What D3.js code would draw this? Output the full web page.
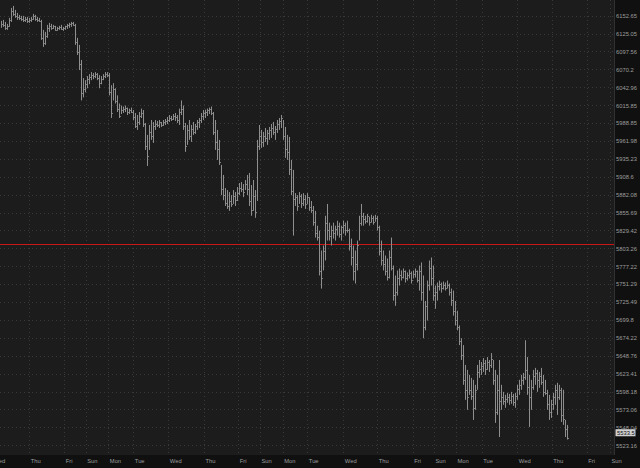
<!DOCTYPE html>
<html><head><meta charset="utf-8">
<script src="https://cdn.jsdelivr.net/npm/d3@7"></script>
<style>html,body{margin:0;padding:0;background:#1c1c1c;overflow:hidden}svg{display:block}</style>
</head><body><svg id="c" width="640" height="468"></svg>
<script>
const yTicks = [6152.65, 6125.05, 6097.56, 6070.2, 6042.96, 6015.85, 5988.85, 5961.98, 5935.23, 5908.6, 5882.08, 5855.69, 5829.42, 5803.26, 5777.22, 5751.29, 5725.49, 5699.8, 5674.22, 5648.76, 5623.41, 5598.18, 5573.06, 5548.04, 5523.16];
const dayTicks = [-4.5, 14.15, 31.65, 42.35, 53.65, 66.15, 83.65, 101.5, 118.65, 129.5, 140.85, 153.15, 171.15, 188.15, 205.85, 216.5, 227.5, 240.35, 258.15, 275.35, 292.85, 304.5];
const dayLabels = ["Wed","Thu","Fri","Sun","Mon","Tue","Wed","Thu","Fri","Sun","Mon","Tue","Wed","Thu","Fri","Sun","Mon","Tue","Wed","Thu","Fri","Sun"];
const highs = [
6144.7,6146.2,6143.1,6140,6149.3,6164.7,6167.8,6161.6,6157,6153.9,
6152.4,6152.4,6150.8,6150.8,6149.3,6150.8,6155.4,6153.9,6150.8,6149.3,
6146.2,6130.8,6127.7,6138.5,6141.6,6140,6138.5,6137,6135.4,6137,
6138.5,6135.4,6137,6140,6141.6,6143.1,6143.1,6140,6118.5,6107.7,
6084.6,6056.9,6053.8,6060,6063,6066.1,6064.6,6066.1,6064.6,6061.5,
6060,6063,6066.1,6066.1,6064.6,6046.1,6049.2,6041.5,6030.7,6018.4,
6015.3,6013.8,6015.3,6012.2,6010.7,6012.2,6008.5,6004,6001,6005.5,
6010.7,6008.5,5989,5971.1,5986,5993.5,5990.5,5993.5,5992,5993.5,
5990.5,5993.5,5995,5998,6001,5999.5,6002.5,6004,6001,6010.7,
6023,6015.3,5989,5986,5993.5,5986,5990.5,5987.5,5993.5,5996.5,
6004,6008.5,6009.1,6010.7,6012.2,6013.8,6005.5,5993.5,5978.6,5963.6,
5926.2,5911.3,5891.8,5888.9,5885.9,5881.4,5888.9,5885.9,5893.3,5899.3,
5900.8,5897.8,5903.8,5911.3,5914.3,5896.3,5903.8,5888.9,5963.6,5986,
5978.6,5975.6,5981.5,5978.6,5983,5987.5,5990.5,5984.5,5993.5,5996.5,
6001,5993.5,5983,5971.1,5968.1,5933.7,5918.8,5884.4,5881.4,5885.9,
5882.9,5884.4,5881.4,5884.4,5878.4,5872.7,5865.4,5858.2,5836.4,5829.2,
5800.1,5807.4,5850.9,5868.4,5840.8,5836.4,5840.8,5836.4,5843.7,5840.8,
5836.4,5843.7,5840.8,5843.7,5832.1,5817.5,5807.4,5800.1,5814.6,5850.9,
5868.4,5855.3,5850.9,5853.8,5849.5,5852.4,5850.9,5852.4,5850.9,5836.4,
5814.6,5800.1,5792.8,5788.5,5800.1,5819,5778.3,5763.8,5771.1,5774,
5771.1,5774,5771.1,5768.2,5772.5,5769.6,5771.1,5774,5771.1,5778.3,
5782.7,5763.8,5727,5756.5,5785.6,5789.9,5778.3,5749.3,5753.6,5756.5,
5753.6,5755.1,5753.6,5756.5,5752.2,5744.9,5742,5727,5713,5691.9,
5673.6,5663.8,5635.7,5628.7,5621.6,5617.4,5614.6,5607.6,5635.7,5642.7,
5639.9,5645.5,5642.7,5646.9,5642.7,5652.5,5642.7,5628.7,5621.6,5642.7,
5607.6,5597.7,5593.5,5596.3,5594.9,5597.7,5594.9,5596.3,5607.6,5614.6,
5621.6,5624.4,5670.8,5646.9,5621.6,5614.6,5628.7,5631.5,5628.7,5625.8,
5631.5,5621.6,5614.6,5600.6,5593.5,5586.5,5596.3,5607.6,5610.4,5607.6,
5603.4,5600.6,5558.4,5551.4];
const lows = [
6133.9,6135.4,6130.8,6130.8,6135.4,6143.1,6152.4,6149.3,6146.2,6146.2,
6144.7,6143.1,6143.1,6141.6,6141.6,6143.1,6146.2,6144.7,6143.1,6143.1,
6115.4,6104.6,6107.7,6118.5,6127.7,6130.8,6132.3,6129.3,6129.3,6130.8,
6130.8,6129.3,6130.8,6132.3,6133.9,6135.4,6137,6107.7,6092.3,6069.2,
6023,6027.6,6035.3,6041.5,6047.6,6053.8,6055.3,6056.9,6053.8,6041.5,
6047.6,6053.8,6056.9,6058.4,6030.7,5996.5,6023,6018.4,6005.5,5996.5,
6002.5,6004,6005.5,6001,6002.5,6004,5993.5,5981.5,5978.6,5986,
5996.5,5983,5948.6,5924.7,5948.6,5963.6,5959.1,5978.6,5983,5981.5,
5983,5984.5,5986,5987.5,5990.5,5992,5993.5,5992,5989,5986,
6001,5978.6,5945.7,5956.1,5963.6,5960.6,5971.1,5972.6,5978.6,5981.5,
5989,5993.5,5996.5,5999.5,6002.5,6001,5971.1,5948.6,5933.7,5926.2,
5881.4,5873.9,5865.4,5861.1,5858.2,5864,5868.4,5865.4,5872.7,5881.4,
5885.9,5878.4,5888.9,5881.4,5865.4,5850.9,5858.2,5848,5872.7,5948.6,
5951.6,5953.1,5960.6,5956.1,5963.6,5966.6,5971.1,5963.6,5974,5978.6,
5981.5,5963.6,5936.7,5933.7,5911.3,5881.4,5821.9,5865.4,5858.2,5868.4,
5862.5,5865.4,5861.1,5868.4,5858.2,5855.3,5836.4,5819,5814.6,5763.8,
5744.9,5771.1,5785.6,5814.6,5814.6,5807.4,5817.5,5814.6,5821.9,5819,
5814.6,5824.8,5821.9,5826.2,5800.1,5778.3,5756.5,5752.2,5771.1,5814.6,
5836.4,5836.4,5839.3,5840.8,5836.4,5840.8,5837.9,5842.2,5829.2,5792.8,
5778.3,5771.1,5763.8,5756.5,5759.5,5771.1,5727.5,5720,5734.8,5749.3,
5756.5,5759.5,5753.6,5756.5,5759.5,5752.2,5759.5,5760.9,5753.6,5742,
5727.5,5673.6,5684.9,5698.9,5742,5749.3,5727.5,5715.8,5727.5,5742,
5739.1,5743.5,5742,5744.9,5734.8,5720,5705.9,5691.9,5684.9,5663.8,
5642.7,5607.6,5586.5,5572.5,5593.5,5586.5,5558.4,5572.5,5600.6,5617.4,
5621.6,5625.8,5621.6,5628.7,5625.8,5631.5,5607.6,5554.2,5565.4,5534.5,
5572.5,5579.5,5575.3,5582.3,5579.5,5580.9,5578.1,5575.3,5586.5,5593.5,
5600.6,5607.6,5614.6,5593.5,5548.6,5572.5,5600.6,5607.6,5597.7,5603.4,
5607.6,5590.7,5593.5,5572.5,5558.4,5561.2,5572.5,5579.5,5565.4,5586.5,
5555.6,5551.4,5534.5,5531];
const closes = [
6140,6138,6134,6137,6146,6160,6156,6152,6150,6149,
6148,6146,6147,6144,6146,6148,6152,6147,6146,6144,
6118,6110,6122,6133,6136,6134,6136,6131,6133,6135,
6132,6134,6136,6138,6140,6141,6139,6112,6097,6078,
6035,6040,6048,6055,6058,6062,6060,6063,6057,6050,
6056,6060,6063,6061,6036,6004,6040,6022,6010,6000,
6008,6010,6012,6006,6008,6006,5998,5985,5990,6000,
6004,5988,5955,5940,5975,5970,5985,5988,5986,5990,
5986,5991,5992,5994,5997,5995,6000,5998,5993,6006,
6010,5985,5955,5978,5970,5980,5976,5984,5990,5994,
6000,6004,6006,6008,6010,6004,5976,5960,5950,5930,
5890,5882,5870,5866,5872,5868,5880,5874,5884,5892,
5890,5886,5898,5890,5872,5860,5880,5856,5955,5970,
5960,5970,5966,5974,5978,5982,5976,5980,5988,5992,
5996,5970,5950,5945,5920,5888,5875,5878,5866,5880,
5870,5876,5868,5878,5864,5860,5842,5826,5820,5770,
5760,5800,5840,5830,5822,5830,5826,5832,5836,5824,
5834,5838,5830,5830,5806,5790,5770,5780,5808,5840,
5850,5846,5844,5850,5842,5848,5842,5848,5834,5800,
5786,5780,5770,5762,5790,5775,5735,5740,5760,5765,
5762,5770,5760,5764,5768,5758,5766,5770,5758,5770,
5740,5690,5720,5750,5775,5760,5735,5740,5748,5752,
5745,5750,5746,5750,5740,5728,5712,5700,5690,5670,
5650,5615,5600,5590,5600,5592,5575,5600,5625,5630,
5634,5638,5630,5640,5636,5644,5615,5570,5600,5585,
5590,5585,5588,5590,5586,5592,5584,5592,5602,5608,
5614,5618,5628,5605,5590,5605,5620,5624,5615,5620,
5612,5598,5596,5580,5570,5580,5590,5600,5590,5600,
5565,5560,5545,5533.5];
const lastPrice = 5533.5;
const refLevel = 5809;

const W = 640, H = 468, plotR = 614, plotB = 455;
const svg = d3.select("#c");
const font = "'Liberation Sans', Arial, sans-serif";

const x = d3.scaleLinear().domain([-0.5, 306.5]).range([0, plotR]);
const y = d3.scaleLog().domain([yTicks[0], yTicks[yTicks.length - 1]]).range([15.7, 445.2]);

svg.append("rect").attr("width", W).attr("height", H).attr("fill", "#1c1c1c");

svg.append("defs").append("clipPath").attr("id", "plot")
  .append("rect").attr("width", plotR).attr("height", plotB);

const plot = svg.append("g").attr("clip-path", "url(#plot)");

// grid
plot.append("g").selectAll("line").data(yTicks).join("line")
  .attr("x1", 0).attr("x2", plotR)
  .attr("y1", d => Math.round(y(d)) + 0.5).attr("y2", d => Math.round(y(d)) + 0.5)
  .attr("stroke", "#383838").attr("stroke-dasharray", "1,3");
plot.append("g").selectAll("line").data(dayTicks).join("line")
  .attr("y1", 0).attr("y2", plotB)
  .attr("x1", d => Math.round(x(d)) + 0.5).attr("x2", d => Math.round(x(d)) + 0.5)
  .attr("stroke", "#383838").attr("stroke-dasharray", "1,3");

// reference line
plot.append("line").attr("x1", 0).attr("x2", plotR)
  .attr("y1", Math.round(y(refLevel)) + 0.5).attr("y2", Math.round(y(refLevel)) + 0.5)
  .attr("stroke", "#c81818").attr("stroke-width", 1);

// bars
const bars = highs.map((h, i) => ({ i, h, l: lows[i], c: closes[i] }));
const bg = plot.append("g").attr("stroke", "#8e8e8e").attr("stroke-width", 1);
bg.selectAll("line.hl").data(bars).join("line").attr("class", "hl")
  .attr("x1", d => Math.round(x(d.i)) + 0.5).attr("x2", d => Math.round(x(d.i)) + 0.5)
  .attr("y1", d => y(d.h)).attr("y2", d => y(d.l));
bg.selectAll("line.cl").data(bars).join("line").attr("class", "cl")
  .attr("stroke", "#7a7a7a")
  .attr("x1", d => Math.round(x(d.i)) + 1).attr("x2", d => Math.round(x(d.i)) + 2)
  .attr("y1", d => Math.round(y(d.c)) + 0.5).attr("y2", d => Math.round(y(d.c)) + 0.5);

// axis panels
svg.append("rect").attr("x", plotR).attr("y", 0).attr("width", W - plotR).attr("height", H).attr("fill", "#101010");
svg.append("rect").attr("x", 0).attr("y", plotB).attr("width", W).attr("height", H - plotB).attr("fill", "#101010");
svg.append("line").attr("x1", plotR + 0.5).attr("x2", plotR + 0.5).attr("y1", 0).attr("y2", plotB)
  .attr("stroke", "#303030");

// y axis
const yAxis = d3.axisRight(y).tickValues(yTicks).tickFormat(d => String(d)).tickSize(0).tickPadding(2);
const ya = svg.append("g").attr("transform", `translate(${plotR},0)`).call(yAxis);
ya.select(".domain").remove();
ya.selectAll("text").attr("fill", "#9c9c9c").attr("font-family", font).attr("font-size", "5.8px");

// x axis
const xAxis = d3.axisBottom(x).tickValues(dayTicks).tickFormat((d, i) => dayLabels[i]).tickSize(0).tickPadding(0);
const xa = svg.append("g").attr("transform", `translate(0,${plotB})`).call(xAxis);
xa.select(".domain").remove();
xa.selectAll("text").attr("fill", "#9c9c9c").attr("font-family", font).attr("font-size", "5.8px")
  .attr("text-anchor", "start").attr("dx", "1").attr("dy", "0").attr("y", 7.5);

// last price box
const ly = y(lastPrice) - 5;
svg.append("rect").attr("x", plotR + 1.5).attr("y", ly - 3.5).attr("width", 20).attr("height", 7)
  .attr("fill", "#d0d0d0");
svg.append("text").attr("x", plotR + 3).attr("y", ly).attr("dy", "0.35em")
  .attr("font-family", font).attr("font-size", "5.8px").attr("fill", "#111").text(String(lastPrice));
</script>
</body></html>
